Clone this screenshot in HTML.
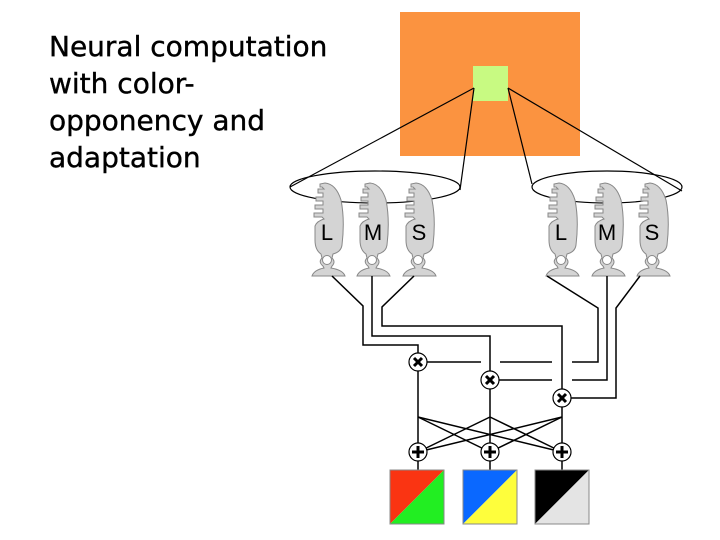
<!DOCTYPE html>
<html><head><style>
html,body{margin:0;padding:0;background:#fff;width:720px;height:540px;overflow:hidden}
.t{position:absolute;left:49px;top:28px;font-family:"DejaVu Sans","Liberation Sans",sans-serif;font-size:28px;line-height:37px;color:#000;-webkit-text-stroke:0.4px #000}
</style></head><body>
<svg width="720" height="540" style="position:absolute;left:0;top:0">
<defs>
<g id="pr" fill="#d4d4d4" stroke="#888" stroke-width="1">
<path d="M-2,183 Q9,184 14,200 Q18,220 15,245 Q14,252 6,254 L5,258 Q9,262 5,266 L4,268 Q16,270 18,276 L-15,276 Q-13,270 -3,268 L-4,266 Q-9,262 -5,258 L-6,254 Q-12,250 -12,240 L-12,226 Q-10,221 -3,219 L-5,217 L-13,217 L-13,213 L-4,213 L-4,209 L-12,209 L-12,205 L-4,205 L-4,201 L-11,201 L-11,197 L-4,197 L-4,193 L-9,193 L-9,189 L-3,189 L-5,187 L-7,187 L-7,184 Z"/>
<circle cx="0" cy="260" r="4.5" fill="#fff"/>
</g>
</defs>
<rect x="400" y="12" width="180" height="144" fill="#fb9340"/>
<rect x="473" y="66" width="35" height="35" fill="#c8fa82"/>
<g fill="none" stroke="#000" stroke-width="1.2">
<line x1="474" y1="88" x2="290" y2="187"/>
<line x1="474" y1="88" x2="460" y2="190"/>
<line x1="508" y1="88" x2="682" y2="191"/>
<line x1="508" y1="88" x2="532" y2="184"/>
<ellipse cx="375" cy="187" rx="85" ry="16"/>
<ellipse cx="607" cy="187" rx="75" ry="16"/>
</g>
<use href="#pr" x="327"/><use href="#pr" x="372"/><use href="#pr" x="418"/>
<use href="#pr" x="561"/><use href="#pr" x="607"/><use href="#pr" x="652"/>
<g font-family="Liberation Sans,sans-serif" font-size="22" text-anchor="middle">
<text x="327" y="240">L</text><text x="373" y="240">M</text><text x="419" y="240">S</text>
<text x="561" y="240">L</text><text x="607" y="240">M</text><text x="652" y="240">S</text>
</g>
<g fill="none" stroke="#000" stroke-width="1.5">
<polyline points="332,276 363,306 363,345 418,345 418,362"/>
<polyline points="372,276 372,336 490,336 490,380"/>
<polyline points="414,276 382,307 382,326 562,326 562,398"/>
<polyline points="547,276 598,308 598,362 572,362"/>
<polyline points="607,276 607,380 572,380"/>
<polyline points="640,276 616,308 616,398 562,398"/>
<line x1="418" y1="362" x2="481" y2="362"/><line x1="500" y1="362" x2="552" y2="362"/>
<line x1="490" y1="380" x2="552" y2="380"/>
<line x1="418" y1="362" x2="418" y2="470"/><line x1="490" y1="380" x2="490" y2="470"/><line x1="562" y1="398" x2="562" y2="470"/>
<line x1="418" y1="417" x2="490" y2="452"/><line x1="418" y1="417" x2="562" y2="452"/>
<line x1="490" y1="417" x2="418" y2="452"/><line x1="490" y1="417" x2="562" y2="452"/>
<line x1="562" y1="417" x2="418" y2="452"/><line x1="562" y1="417" x2="490" y2="452"/>
</g>
<g stroke="#000" stroke-width="1.2" fill="#fff">
<circle cx="418" cy="362" r="9"/><circle cx="490" cy="380" r="9"/><circle cx="562" cy="398" r="9"/>
<circle cx="418" cy="452" r="9"/><circle cx="490" cy="452" r="9"/><circle cx="562" cy="452" r="9"/>
</g>
<g stroke="#000" stroke-width="3">
<path d="M414,358l8,8M422,358l-8,8M486,376l8,8M494,376l-8,8M558,394l8,8M566,394l-8,8"/>
<path d="M412,452h12M418,446v12M484,452h12M490,446v12M556,452h12M562,446v12"/>
</g>
<polygon points="390,470 444,470 390,524" fill="#fa3412"/><polygon points="444,470 444,524 390,524" fill="#22ee22"/>
<polygon points="463,470 517,470 463,524" fill="#0a68ff"/><polygon points="517,470 517,524 463,524" fill="#fefe3c"/>
<polygon points="535,470 589,470 535,524" fill="#000"/><polygon points="589,470 589,524 535,524" fill="#e4e4e4"/>
<g fill="none" stroke="#888"><rect x="390" y="470" width="54" height="54"/><rect x="463" y="470" width="54" height="54"/><rect x="535" y="470" width="54" height="54"/></g>
</svg>
<div class="t">Neural computation<br>with color-<br>opponency and<br>adaptation</div>
</body></html>
